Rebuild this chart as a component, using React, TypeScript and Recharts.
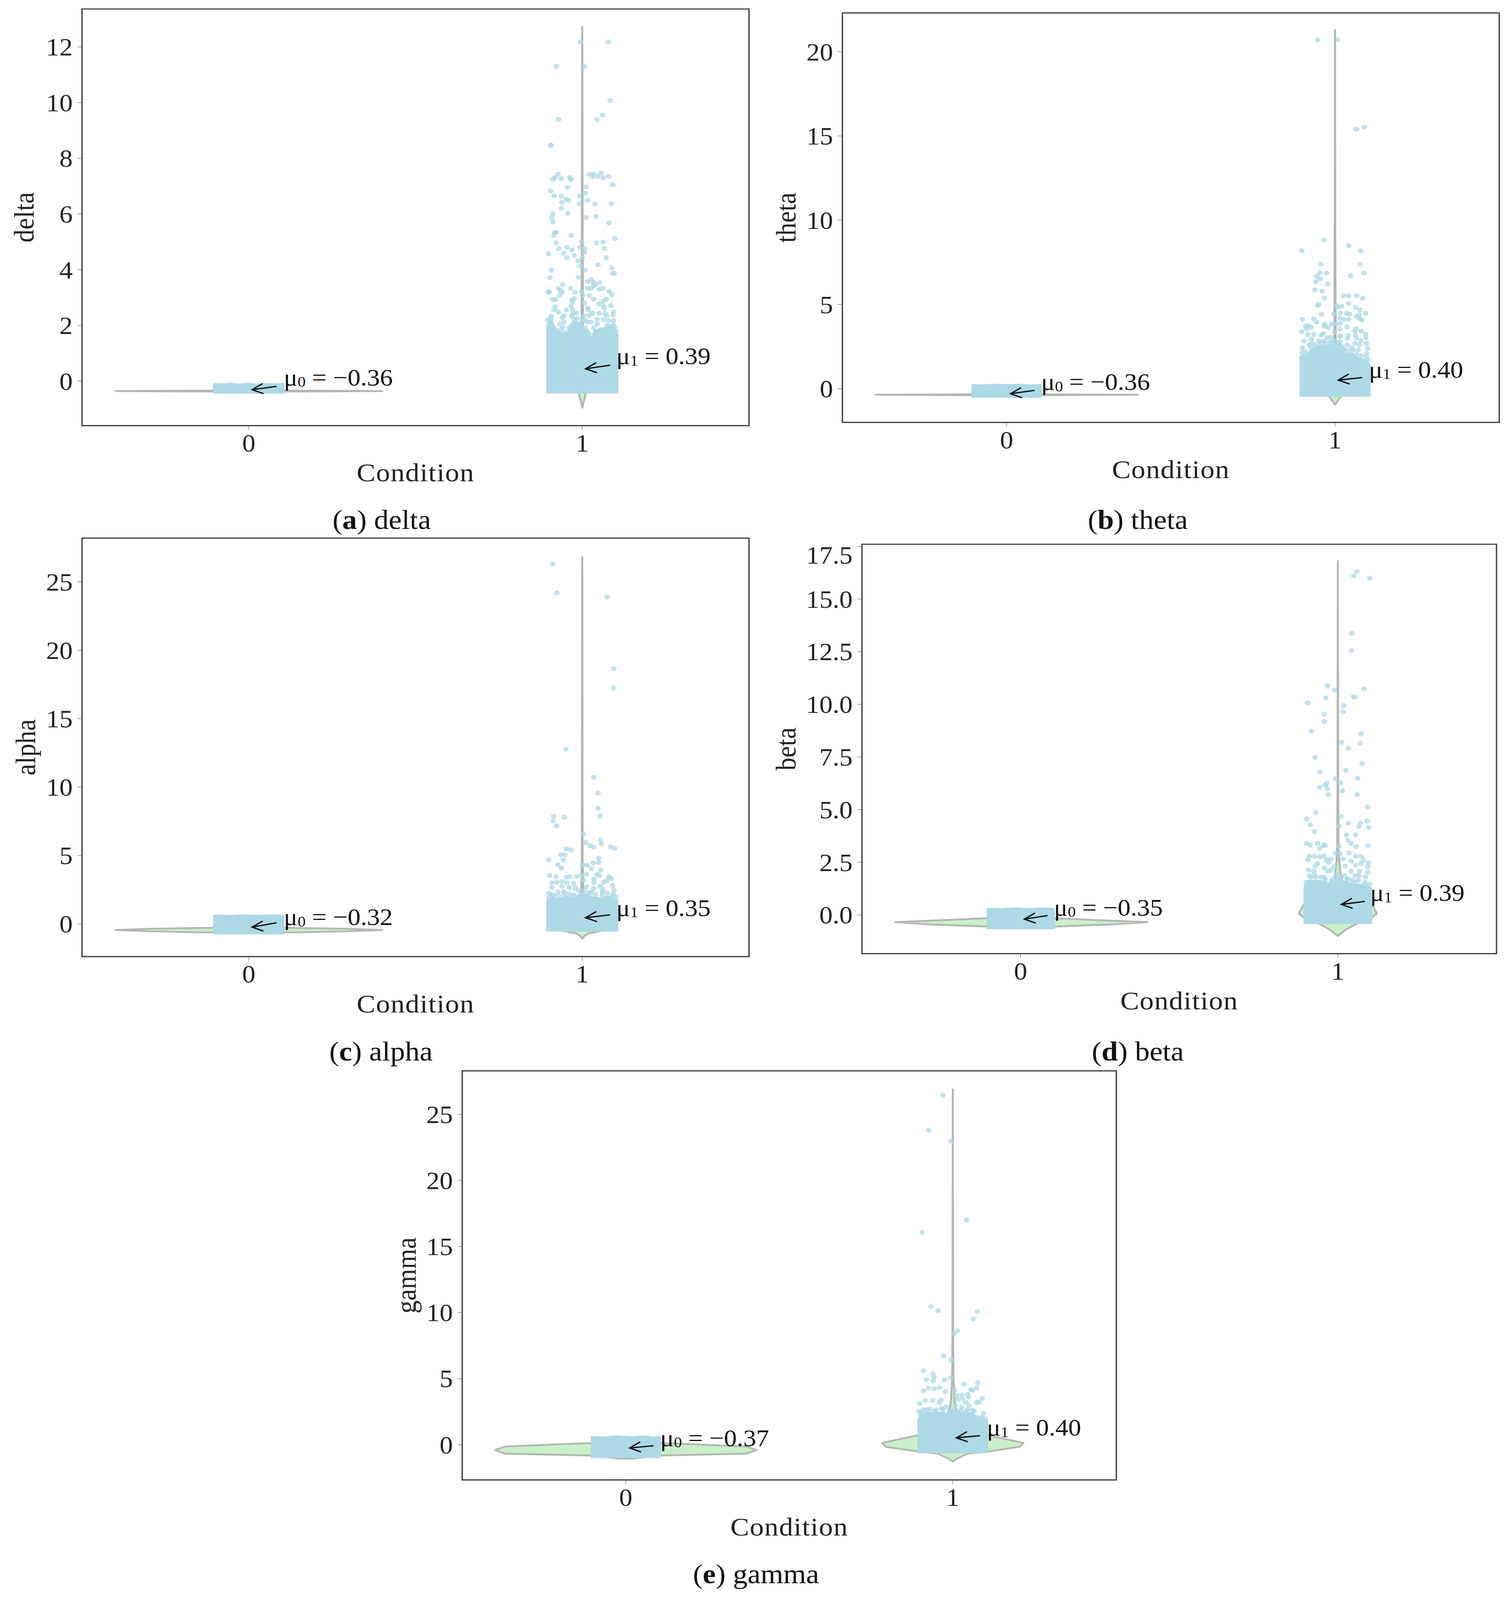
import React from 'react';
import { ScatterChart, Scatter, XAxis, YAxis, ReferenceArea } from 'recharts';

type Pair = [number, number];

const conditionTicks = [0, 1];
const deltaTicks = [0, 2, 4, 6, 8, 10, 12];
const thetaTicks = [0, 5, 10, 15, 20];
const alphaTicks = [0, 5, 10, 15, 20, 25];
const betaTicks = [0, 2.5, 5, 7.5, 10, 12.5, 15, 17.5];
const gammaTicks = [0, 5, 10, 15, 20, 25];

// scattered points above the dense part of condition 1
const deltaPoints: Pair[] = [
  [.994,12.18],[1.078,12.18],[.922,11.3],[1.007,11.3],[1.083,10.07],[1.061,9.55],[.929,9.39],[1.044,9.39],[.905,8.46],[.906,8.47],
  [.928,7.43],[.918,7.3],[.912,7.24],[.937,7.27],[.962,7.31],[.966,7.24],[1.02,7.42],[1.033,7.43],[1.031,7.33],[1.047,7.35],
  [1.056,7.47],[1.063,7.3],[1.079,7.35],[1.091,7.05],[.955,6.96],[1.012,6.97],[.905,6.83],[.916,6.65],[.937,6.64],[.992,6.65],
  [1.009,6.74],[.952,6.53],[.959,6.49],[1.016,6.49],[.939,6.41],[.991,6.37],[1.038,6.36],[1.087,6.37],[.937,6.21],[.912,6],
  [.957,6.02],[.909,5.87],[1.011,5.87],[1.041,5.91],[.912,5.71],[1.08,5.68],[.918,5.33],[.922,5.34],[.914,5.23],[.967,5.23],
  [1.098,5.12],[.998,5.02],[.921,4.96],[1.043,4.96],[1.062,4.99],[.929,4.76],[.954,4.8],[.969,4.71],[.994,4.8],[1.006,4.76],
  [1.007,4.62],[1.066,4.76],[.899,4.57],[.944,4.59],[.976,4.51],[.954,4.43],[1,4.43],[1.072,4.43],[.988,4.32],[1.047,4.18],
  [.994,4.13],[1.088,4.07],[.907,3.98],[1.008,3.98],[1.092,3.87],[1.096,3.87],[.903,3.72],[.988,3.73],[1.027,3.64],[1.016,3.57],
  [1.034,3.55],[1.052,3.53],[.941,3.46],[1.039,3.46],[1.034,3.42],[.929,3.33],[.965,3.33],[1.016,3.33],[1.026,3.33],[1.062,3.33],
  [1.052,3.3],[.934,3.26],[1.081,3.22],[.899,3.19],[.9,3.2],[.94,3.19],[.978,3.19],[.997,3.21],[.932,3.08],[1.001,3.08],
  [1.089,3.1],[1.021,3.07],[.912,2.93],[.921,2.93],[.969,2.92],[.976,2.96],[1.034,2.94],[1.072,2.94],[1.063,2.87],[.971,2.83],
  [1.006,2.8],[1.05,2.77],[1.063,2.71],[1.086,2.71],[.919,2.67],[.966,2.68],[1.016,2.62],[1.066,2.62],[.915,2.55],[.952,2.55],
  [.971,2.55],[1.018,2.55],[.929,2.48],[1.094,2.48],[.983,2.44],[.971,2.39],[1.031,2.44],[1.05,2.43],[1.068,2.43],[.945,2.35],
  [.969,2.33],[1.005,2.35],[1.021,2.35],[1.073,2.35],[1.092,2.37],[.907,2.33],[.94,2.28],[.906,2.21],[.932,2.05],[.945,2.12],
  [.942,1.94],[1.045,2.21],[1.026,2.12],[1.045,2.05],[1.063,2.21],[1.094,2.17],[1.092,2.03],[1.097,1.94],[1.079,2.17],[1.005,2.21],
  [1.016,2.12],[1.034,1.92],
  [.9,1.95],[.91,1.85],[.92,1.7],[.93,1.62],[.95,1.6],[.96,1.9],[.975,2.2],[.985,2.25],[1,2.15],[1.01,1.9],
  [1.02,1.7],[1.03,1.55],[1.045,1.6],[1.055,1.85],[1.075,2],[1.085,1.95],[1.1,1.8],[.896,2.2],[.935,1.85],[.948,1.75],
];
const thetaPoints: Pair[] = [
  [.947,20.71],[1.008,20.71],[1.065,15.41],[1.089,15.52],[.967,8.81],[1.042,8.48],[.899,8.18],[1.078,8.18],[.957,7.4],[1.076,7.4],
  [.954,6.87],[.974,6.86],[1.088,6.87],[.944,6.68],[1.047,6.7],[.955,6.53],[.942,6.36],[.978,6.21],[.939,5.87],[.961,5.8],
  [1.025,5.52],[1.041,5.52],[1.066,5.52],[.967,5.36],[1.084,5.36],[1.041,5.05],[.95,5.01],[.947,4.95],[1.005,4.94],[1.02,4.89],
  [1.008,4.82],[1.063,4.82],[1.076,4.67],[1.093,4.47],[1.016,4.49],[1.035,4.47],[1.044,4.41],[.996,4.45],[.959,4.41],[1.074,4.38],
  [1.065,4.28],[1.015,4.17],[1.028,4.11],[1.042,4.11],[.935,4.15],[.901,4.1],[1.076,4.15],[1.081,4.08],[.944,3.95],[.969,3.83],
  [.99,3.84],[1.003,3.83],[1.015,3.87],[.911,3.7],[.928,3.65],[.917,3.75],[.914,3.57],[.967,3.7],[.98,3.62],[1.036,3.66],
  [1.015,3.55],[1.064,3.55],[1.079,3.42],[.899,3.38],[1.06,3.4],[.917,3.21],[.936,3.23],[.965,3.29],[.958,3.18],[.999,3.36],
  [1.017,3.14],[1.04,3.15],[1.062,3.18],[1.093,3.24],[.987,3.06],[.976,3.03],[1.094,3.03],[1.065,2.99],[.905,2.84],[.928,2.95],
  [.951,2.84],[.965,2.84],[.99,2.8],[1.015,3.1],[1.037,2.99],[1.078,2.84],[1.096,2.69],[.901,2.43],[.921,2.61],[.93,2.69],
  [1.06,2.69],[1.074,2.61],[1.099,2.39],[1.071,2.31],[1.037,2.61],[1.096,2.09],[1.051,2.43],
  [.9,2.15],[.91,2.2],[.925,2.45],[.94,2.6],[.955,2.7],[.97,2.72],[.985,2.75],[1,2.8],[1.015,2.8],[1.03,2.3],
  [1.04,2.25],[1.055,2.3],[1.065,2.05],[1.08,1.95],[1.095,1.9],[1.1,1.7],
];
const alphaPoints: Pair[] = [
  [.911,26.3],[.924,24.2],[1.074,23.9],[1.094,18.66],[1.094,17.24],[.951,12.77],[1.034,10.72],[1.047,9.57],[1.047,8.46],[1.053,7.88],
  [.914,7.86],[.946,7.8],[.913,7.53],[.923,7.16],[1.003,6.57],[1.055,6.15],[1.057,5.87],[1.01,5.95],[1.023,5.72],[1.034,5.6],
  [1.085,5.64],[1.097,5.52],[.952,5.49],[.966,5.4],[.936,5.05],[.948,5.05],[.9,4.68],[.943,4.66],[1.049,4.81],[1.049,4.49],
  [1.033,4.44],[.926,4.33],[1.001,4.31],[1.015,4.29],[1.028,4.04],[.937,4.09],[1.055,3.91],[.902,3.54],[.921,3.46],[.952,3.41],
  [.963,3.46],[.983,3.46],[.997,3.56],[1.013,3.63],[1.044,3.61],[1.051,3.53],[1.08,3.43],[1.087,3.31],[1.004,3.21],[1.035,3.26],
  [.909,3],[.923,3.05],[.939,3.1],[.954,3],[.974,2.95],[1.035,3],[1.064,3.05],[1.073,3.15],[.909,2.65],[.939,2.75],
  [.961,2.65],[.979,2.6],[1.013,2.7],[1.033,2.6],[1.053,2.75],[1.062,2.55],[1.091,2.8],[1.095,2.45],[.927,2.35],[.945,2.35],
  [1.028,2.3],[1.06,2.35],[1.093,2.15],[.9,2.25],[.909,2.1],[.974,2.1],
  [.9,1.95],[.915,2.1],[.93,2.05],[.945,2.2],[.96,2.2],[.975,2.05],[.99,2.4],[1.005,2.4],[1.02,2.3],[1.04,2.15],
  [1.06,2.1],[1.075,2.25],[1.09,2.1],[1.1,1.95],
];
const betaPoints: Pair[] = [
  [1.06,16.3],[1.05,16.1],[1.1,15.99],[1.044,13.37],[1.042,12.55],[.968,10.88],[.99,10.68],[1.082,10.74],[.962,10.3],[1.049,10.36],
  [1.054,10.34],[.905,10.07],[1.019,9.94],[1.017,9.64],[.957,9.53],[.957,9.18],[.916,8.72],[1.073,8.6],[1.012,8.2],[1.07,8.16],
  [1.033,7.91],[.928,7.48],[1.076,7.18],[1.025,6.86],[.943,6.79],[.992,6.46],[1.062,6.49],[.965,6.25],[1.008,6.28],[.96,6.17],
  [.943,6.05],[.967,5.99],[1.014,5.9],[.97,5.72],[1.061,5.72],[1.094,5.13],[.93,4.87],[1.01,4.69],[.902,4.55],[1.033,4.35],
  [1.071,4.35],[1.092,4.46],[.913,4.29],[1.004,4.22],[1.066,4.2],[1.097,4.15],[.926,3.96],[1.027,3.8],[1.056,3.8],[1.031,3.54],
  [1.042,3.4],[.902,3.4],[.913,3.31],[.936,3.4],[.955,3.31],[.96,3.31],[.943,3.17],[1.003,3.25],[1.057,3.25],[1.095,3.28],
  [.992,2.94],[1.007,2.91],[1.035,2.94],[.91,2.79],[.926,2.78],[.943,2.76],[.955,2.81],[1.056,2.79],[1.073,2.79],[.905,2.62],
  [.964,2.62],[.978,2.65],[1.016,2.65],[1.042,2.55],[1.08,2.6],[1.096,2.48],[.971,2.5],[.936,2.44],[.929,2.32],[1.023,2.32],
  [1.056,2.36],[1.073,2.44],[1.094,2.29],[.957,2.24],[.988,2.29],[.907,2.13],[.924,2.08],[.967,2.08],[.978,2.13],[1.042,2.08],
  [1.068,2.08],[1.094,2.03],[.91,1.85],[.926,1.92],[.957,1.8],[1.021,1.87],[1.054,1.87],[1.066,1.87],[1.087,1.8],[.99,1.77],
  [1.007,1.66],[1.03,1.71],[.959,1.61],[1.054,1.56],[1.087,1.45],
  [.9,1.55],[.915,1.8],[.93,1.8],[.945,1.8],[.96,1.7],[.98,1.65],[.995,1.95],[1.01,1.8],[1.03,1.7],[1.045,1.65],
  [1.065,1.65],[1.085,1.55],[1.1,1.45],
];
const gammaPoints: Pair[] = [
  [.97,26.46],[.926,23.8],[.994,22.97],[1.042,17],[.906,16.08],[.933,10.45],[.955,10.15],[1.075,10.06],[1.062,9.53],[1.014,8.62],
  [1.004,8.39],[.972,6.73],[.995,6.41],[.91,5.6],[.939,5.37],[.942,5.12],[.919,4.92],[.94,4.83],[.975,4.9],[.993,5.06],
  [1.034,4.58],[1.076,4.7],[1.073,4.31],[1.061,4.12],[1.056,4.17],[.925,4.29],[.943,4.23],[.959,4.32],[.91,4.08],[.977,4.01],
  [1.005,4.1],[1.028,3.76],[1.046,3.81],[1.011,3.72],[1.048,3.62],[1.09,3.5],[1.08,3.22],[1.072,3.19],[.916,3.35],[.938,3.35],
  [.964,3.38],[.899,3.12],[.959,3.17],[1.016,3.4],[1.029,3.49],[1.04,3.22],[1.05,2.94],[.98,2.87],[.966,2.76],[1.027,2.85],
  [.922,2.67],[.901,2.44],[1.04,2.53],[1.065,2.53],[1.094,2.38],[1.016,2.53],[.944,2.53],[1.086,2.03],[.9,1.94],
  [.897,2.5],[.91,2.65],[.93,2.7],[.95,2.65],[.97,2.65],[.99,2.55],[1.008,2.95],[1.025,2.6],[1.045,2.65],[1.06,2.6],
  [1.075,2.1],[1.09,2.05],[1.1,1.95],
];

// outline of the part of each cloud where the points merge into a solid mass
const deltaCloud0: Pair[] = [[-.103,-.41],[-.103,-.12],[-.075,-.13],[-.055,-.1],[-.03,-.14],[0,-.11],[.03,-.14],[.06,-.11],[.085,-.13],[.103,-.11],[.103,-.41]];
const deltaCloud1: Pair[] = [[.896,-.4],[.896,2.03],[.906,2.17],[.916,1.94],[.927,1.76],[.945,1.67],[.958,1.71],[.966,2.03],[.979,2.12],[.995,2.08],[1.005,1.85],[1.016,1.8],[1.029,1.44],[1.037,1.8],[1.068,1.9],[1.094,1.9],[1.104,1.67],[1.104,-.4]];
const thetaCloud0: Pair[] = [[-.103,-.47],[-.103,.2],[-.07,.18],[-.04,.22],[0,.19],[.04,.22],[.07,.18],[.103,.2],[.103,-.47]];
const thetaCloud1: Pair[] = [[.896,-.4],[.896,1.9],[.914,2.01],[.937,2.39],[.96,2.54],[.987,2.57],[1.01,2.69],[1.024,2.54],[1.033,2.01],[1.051,2.09],[1.069,1.79],[1.092,1.68],[1.104,1.41],[1.104,-.4]];
const alphaCloud0: Pair[] = [[-.103,-.68],[-.103,.58],[-.06,.55],[-.02,.6],[.03,.56],[.07,.6],[.103,.57],[.103,-.68]];
const alphaCloud1: Pair[] = [[.896,-.47],[.896,1.7],[.912,1.9],[.93,1.8],[.952,2],[.974,1.8],[.997,2.2],[1.015,2.1],[1.033,1.9],[1.055,1.85],[1.078,2],[1.104,1.7],[1.104,-.47]];
const betaCloud0: Pair[] = [[-.103,-.62],[-.103,.28],[-.06,.26],[-.02,.3],[.03,.26],[.07,.3],[.103,.27],[.103,-.62]];
const betaCloud1: Pair[] = [[.896,-.37],[.896,1.35],[.908,1.61],[.941,1.61],[.974,1.45],[.992,1.77],[1.021,1.56],[1.049,1.45],[1.077,1.4],[1.104,1.25],[1.104,-.37]];
const gammaCloud0: Pair[] = [[-.103,-.92],[-.103,.56],[-.07,.52],[-.03,.6],[.02,.54],[.06,.6],[.085,.5],[.103,.58],[.103,-.92]];
const gammaCloud1: Pair[] = [[.896,-.56],[.896,1.76],[.901,2.26],[.917,2.4],[.939,2.4],[.965,2.4],[.987,2.31],[1.003,2.67],[1.019,2.31],[1.04,2.4],[1.061,2.31],[1.077,1.85],[1.088,1.8],[1.104,1.76],[1.104,-.56]];

// violin outlines, condition 0 is the whole outline, condition 1 is [half width, value]
const deltaViolin0: Pair[] = [[-.4,-.36],[-.2,-.345],[0,-.34],[.2,-.345],[.4,-.36],[.2,-.375],[0,-.38],[-.2,-.375]];
const deltaViolin1: Pair[] = [[0,12.72],[.001,6],[.002,2],[.005,0],[.01,-.47],[.004,-.75],[0,-.96]];
const thetaViolin0: Pair[] = [[-.4,-.36],[-.2,-.34],[0,-.33],[.2,-.34],[.4,-.36],[.2,-.38],[0,-.39],[-.2,-.38]];
const thetaViolin1: Pair[] = [[0,21.28],[.001,8],[.002,3],[.006,0],[.017,-.47],[.007,-.75],[0,-.94]];
const alphaViolin0: Pair[] = [[-.4,-.45],[-.3,-.36],[-.15,-.3],[0,-.28],[.15,-.3],[.3,-.36],[.4,-.45],[.3,-.54],[.15,-.62],[0,-.64],[-.15,-.62],[-.3,-.54]];
const alphaViolin1: Pair[] = [[0,26.8],[.001,5],[.003,2.4],[.008,1.5],[.02,.7],[.06,-.5],[.045,-.58],[.02,-.68],[.008,-.85],[0,-1.08]];
const betaViolin0: Pair[] = [[-.395,-.34],[-.3,-.28],[-.2,-.22],[-.11,-.16],[.11,-.16],[.2,-.22],[.3,-.28],[.4,-.34],[.3,-.44],[.2,-.5],[.11,-.55],[-.11,-.55],[-.2,-.5],[-.3,-.44]];
const betaViolin1: Pair[] = [[0,16.8],[.001,6],[.002,3.5],[.004,2.6],[.01,1.8],[.03,1],[.107,.52],[.123,.07],[.107,-.12],[.055,-.45],[.025,-.7],[.008,-.9],[0,-1]];
const gammaViolin0: Pair[] = [[-.4,-.41],[-.369,-.14],[-.108,.13],[.108,.13],[.368,-.14],[.4,-.41],[.368,-.68],[.108,-.82],[.02,-1.06],[-.02,-1.06],[-.108,-.82],[-.369,-.68]];
const gammaViolin1: Pair[] = [[0,26.9],[.001,8],[.002,5],[.006,3.2],[.016,2.04],[.04,1.3],[.107,.71],[.216,.13],[.205,-.16],[.107,-.52],[.045,-.68],[.013,-1.06],[0,-1.28]];

// mean annotations: arrow tail, arrow head, text anchor
const deltaNotes = [
  { sub: '0', value: '−0.36', tail: [.083, -.19], head: [.01, -.31], at: [.105, -.155] },
  { sub: '1', value: '0.39', tail: [1.084, .57], head: [1.01, .44], at: [1.102, .61] },
];
const thetaNotes = [
  { sub: '0', value: '−0.36', tail: [.085, -.1], head: [.012, -.3], at: [.105, -.08] },
  { sub: '1', value: '0.40', tail: [1.083, .66], head: [1.01, .51], at: [1.103, .66] },
];
const alphaNotes = [
  { sub: '0', value: '−0.32', tail: [.083, .08], head: [.01, -.24], at: [.105, -.08] },
  { sub: '1', value: '0.35', tail: [1.084, .66], head: [1.01, .45], at: [1.102, .58] },
];
const betaNotes = [
  { sub: '0', value: '−0.35', tail: [.085, -.03], head: [.012, -.2], at: [.105, -.03] },
  { sub: '1', value: '0.39', tail: [1.085, .64], head: [1.011, .5], at: [1.102, .67] },
];
const gammaNotes = [
  { sub: '0', value: '−0.37', tail: [.085, -.08], head: [.012, -.25], at: [.105, -.1] },
  { sub: '1', value: '0.40', tail: [1.083, .68], head: [1.011, .52], at: [1.104, .68] },
];

const FONT = "'Liberation Serif', serif";
const TICK_SIZE = 68;
const AXIS_W = 270;
const AXIS_H = 190;
const BLUE = '#ADD8E6';
// the browser window stops at 4096px, so the 4451px layout is squeezed to fit
const FIT_Y = 4096 / 4451;

const toRows = (pairs: Pair[] | number[][]) => pairs.map(([x, y]) => ({ x, y }));
const mirror = (side: Pair[]) => [
  ...side.map(([d, y]) => ({ x: 1 + d, y })),
  ...[...side].reverse().map(([d, y]) => ({ x: 1 - d, y })),
];

const noDot = () => <g />;
const dot = (p: any) => <circle cx={p.cx} cy={p.cy} r={7} fill={BLUE} fillOpacity={0.75} />;

const pathOf = (pts: { x: number; y: number }[]) =>
  'M' + pts.map((p) => `${p.x},${p.y}`).join('L') + 'Z';

const violinLine = (p: any) => (
  <path d={pathOf(p.points)} fill="#C9F0C9" stroke="#B2B7B2" strokeWidth={5} strokeLinejoin="round" />
);
const cloudLine = (p: any) => (
  <path d={pathOf(p.points)} fill={BLUE} stroke={BLUE} strokeWidth={7} strokeLinejoin="round" />
);
const arrowLine = (p: any) => {
  const [t, h] = p.points;
  return (
    <path
      d={`M${t.x},${t.y}L${h.x},${h.y}M${h.x + 27},${h.y - 17}L${h.x},${h.y}L${h.x + 29},${h.y + 11}`}
      fill="none"
      stroke="#111"
      strokeWidth={3.6}
    />
  );
};

const noteLabel = (sub: string, value: string) => (p: any) => (
  <text x={p.cx} y={p.cy} fontFamily={FONT} fontSize={66} fill="#111">
    μ<tspan fontSize={41} dy={4}>{sub}</tspan>
    <tspan dy={-4}> = {value}</tspan>
  </text>
);

const Panel = ({ box, ticks, domain, title, labelOffset, points, clouds, violins, notes, fmt }: any) => {
  const [left, right, top, bottom] = box;
  return (
    <div style={{ position: 'absolute', left: left - AXIS_W, top: top - 10 }}>
      <ScatterChart
        width={AXIS_W + (right - left) + 10}
        height={10 + (bottom - top) + AXIS_H}
        margin={{ top: 10, right: 10, bottom: 0, left: 0 }}
      >
        <XAxis
          type="number"
          dataKey="x"
          domain={[-0.5, 1.5]}
          ticks={conditionTicks}
          allowDataOverflow
          height={AXIS_H}
          tickSize={12}
          tickMargin={12}
          stroke="#444"
          tick={{ fontSize: TICK_SIZE, fontFamily: FONT, fill: '#222' }}
          label={{ value: 'Condition', position: 'insideTop', offset: 104, style: { fontSize: 72, fontFamily: FONT, fill: '#222', letterSpacing: 1.5 } }}
        />
        <YAxis
          type="number"
          dataKey="y"
          domain={domain}
          ticks={ticks}
          allowDataOverflow
          width={AXIS_W}
          tickSize={12}
          tickMargin={12}
          stroke="#444"
          tickFormatter={fmt}
          tick={{ fontSize: TICK_SIZE, fontFamily: FONT, fill: '#222' }}
          label={{ value: title, angle: -90, position: 'insideLeft', offset: labelOffset, style: { textAnchor: 'middle', fontSize: 72, fontFamily: FONT, fill: '#222' } }}
        />
        <ReferenceArea x1={-0.5} x2={1.5} y1={domain[0]} y2={domain[1]} fill="none" stroke="#444" strokeWidth={3.5} />
        <Scatter data={toRows(violins[0])} shape={noDot} line={violinLine} isAnimationActive={false} />
        <Scatter data={mirror(violins[1])} shape={noDot} line={violinLine} isAnimationActive={false} />
        <Scatter data={toRows(points)} shape={dot} isAnimationActive={false} />
        <Scatter data={toRows(clouds[0])} shape={noDot} line={cloudLine} isAnimationActive={false} />
        <Scatter data={toRows(clouds[1])} shape={noDot} line={cloudLine} isAnimationActive={false} />
        {notes.map((n: any) => (
          <Scatter key={n.sub + 'a'} data={toRows([n.tail, n.head])} shape={noDot} line={arrowLine} isAnimationActive={false} />
        ))}
        {notes.map((n: any) => (
          <Scatter key={n.sub + 't'} data={toRows([n.at])} shape={noteLabel(n.sub, n.value)} isAnimationActive={false} />
        ))}
      </ScatterChart>
    </div>
  );
};

const Caption = ({ letter, name, x, y }: any) => (
  <div
    style={{
      position: 'absolute',
      left: x - 400,
      top: y - 50,
      width: 800,
      height: 100,
      lineHeight: '100px',
      textAlign: 'center',
      fontFamily: FONT,
      fontSize: 75,
      color: '#111',
    }}
  >
    (<b>{letter}</b>) {name}
  </div>
);

export default function App() {
  return (
    <div
      style={{
        position: 'absolute',
        left: 0,
        top: 0,
        width: 3862,
        height: 4451,
        background: '#fff',
        overflow: 'hidden',
        transform: `scaleY(${FIT_Y})`,
        transformOrigin: '0 0',
      }}
    >
      <Panel box={[210, 1917, 25, 1184]} ticks={deltaTicks} domain={[-1.6, 13.36]} title="delta" labelOffset={120}
        points={deltaPoints} clouds={[deltaCloud0, deltaCloud1]} violins={[deltaViolin0, deltaViolin1]} notes={deltaNotes} />
      <Panel box={[2156, 3837, 36, 1175]} ticks={thetaTicks} domain={[-2, 22.3]} title="theta" labelOffset={124}
        points={thetaPoints} clouds={[thetaCloud0, thetaCloud1]} violins={[thetaViolin0, thetaViolin1]} notes={thetaNotes} />
      <Panel box={[210, 1917, 1497, 2661]} ticks={alphaTicks} domain={[-2.39, 28.2]} title="alpha" labelOffset={124}
        points={alphaPoints} clouds={[alphaCloud0, alphaCloud1]} violins={[alphaViolin0, alphaViolin1]} notes={alphaNotes} />
      <Panel box={[2206, 3830, 1514, 2653]} ticks={betaTicks} domain={[-1.84, 17.6]} title="beta" labelOffset={74}
        points={betaPoints} clouds={[betaCloud0, betaCloud1]} violins={[betaViolin0, betaViolin1]} notes={betaNotes}
        fmt={(v: number) => v.toFixed(1)} />
      <Panel box={[1183, 2857, 2979, 4117]} ticks={gammaTicks} domain={[-2.67, 28.3]} title="gamma" labelOffset={125}
        points={gammaPoints} clouds={[gammaCloud0, gammaCloud1]} violins={[gammaViolin0, gammaViolin1]} notes={gammaNotes} />
      <Caption letter="a" name="delta" x={977} y={1446} />
      <Caption letter="b" name="theta" x={2912} y={1446} />
      <Caption letter="c" name="alpha" x={975} y={2925} />
      <Caption letter="d" name="beta" x={2912} y={2925} />
      <Caption letter="e" name="gamma" x={1935} y={4379} />
    </div>
  );
}
